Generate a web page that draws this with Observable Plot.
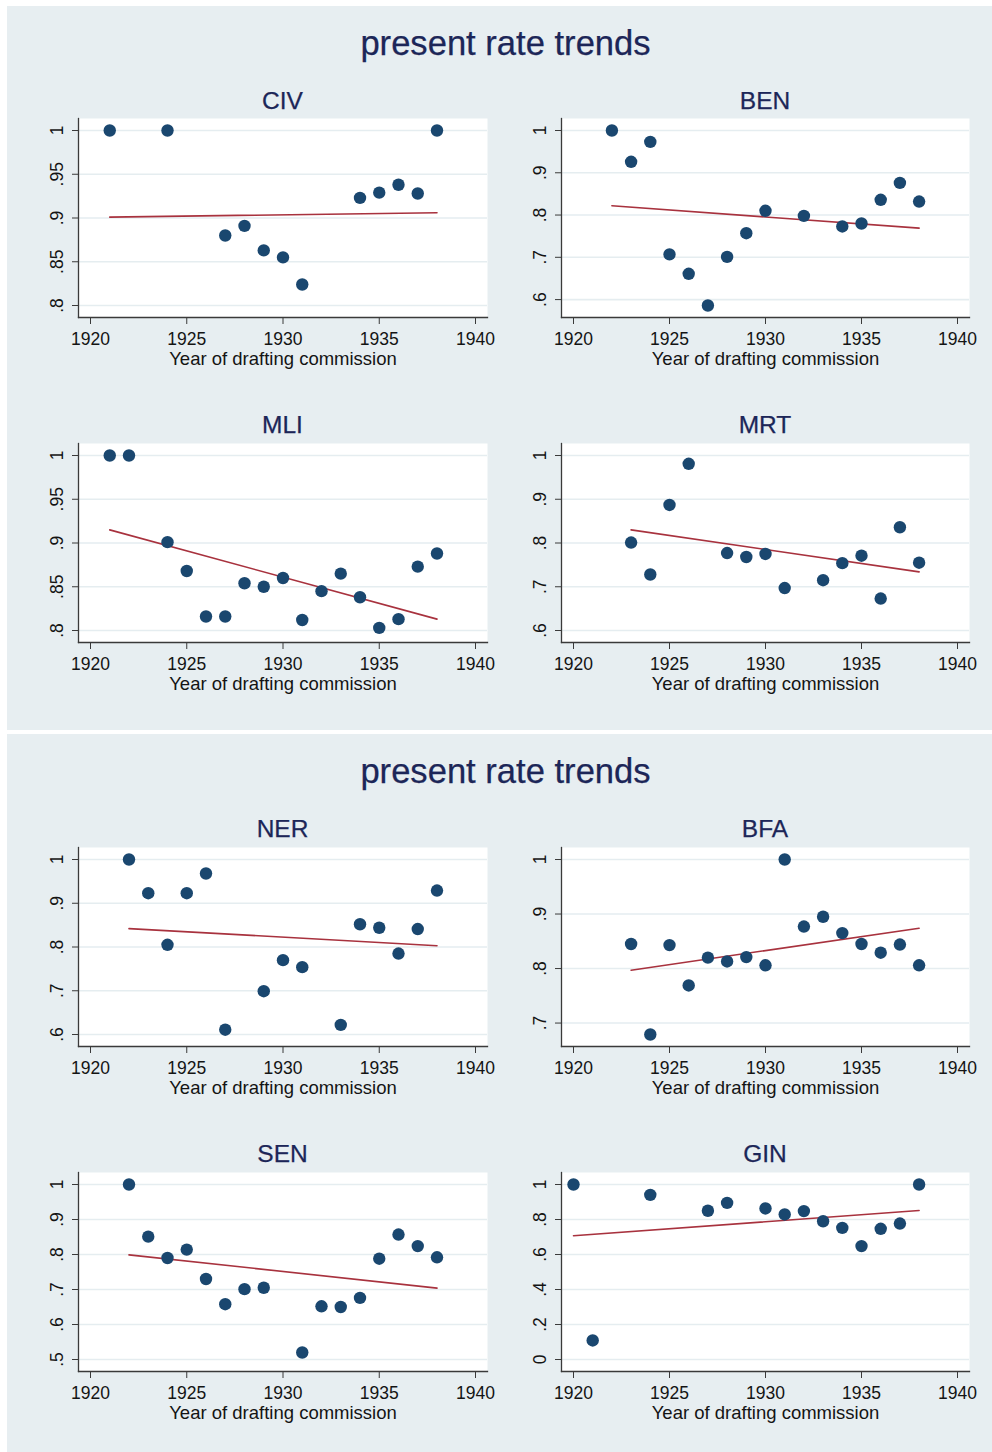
<!DOCTYPE html>
<html>
<head>
<meta charset="utf-8">
<script src="https://cdn.jsdelivr.net/npm/d3@7"></script>
<script src="https://cdn.jsdelivr.net/npm/@observablehq/plot@0.6"></script>
<style>
  body { margin: 0; background: #ffffff; }
  #root { position: relative; width: 992px; height: 1452px; overflow: hidden;
          font-family: "Liberation Sans", Arial, Helvetica, sans-serif; }
  .panel { position: absolute; background: #e7eef1; }
  .ttl { position: absolute; white-space: nowrap; transform: translateX(-50%); -webkit-text-stroke: 0.25px currentColor; }
  .sub { position: absolute; }
  .sub svg { overflow: visible; }
  .sub svg text { stroke: none; }
</style>
</head>
<body>
<div id="root"></div>
<script>
// ---------------- data ----------------
const mainTitle = "present rate trends";
const xLabel = "Year of drafting commission";
const xTicks = [1920, 1925, 1930, 1935, 1940];

const civYears = [1921, 1924, 1927, 1928, 1929, 1930, 1931, 1934, 1935, 1936, 1937, 1938];
const civRates = [1.0, 1.0, 0.880, 0.891, 0.863, 0.855, 0.824, 0.923, 0.929, 0.938, 0.928, 1.0];
const civFitYears = [1921, 1938];
const civFitRates = [0.901, 0.906];
const civTicks = [0.8, 0.85, 0.9, 0.95, 1];

const benYears = [1922, 1923, 1924, 1925, 1926, 1927, 1928, 1929, 1930, 1932, 1934, 1935, 1936, 1937, 1938];
const benRates = [1.0, 0.926, 0.973, 0.707, 0.661, 0.586, 0.701, 0.757, 0.810, 0.798, 0.773, 0.780, 0.836, 0.876, 0.832];
const benFitYears = [1922, 1938];
const benFitRates = [0.822, 0.769];
const benTicks = [0.6, 0.7, 0.8, 0.9, 1];

const mliYears = [1921, 1922, 1924, 1925, 1926, 1927, 1928, 1929, 1930, 1931, 1932, 1933, 1934, 1935, 1936, 1937, 1938];
const mliRates = [1.0, 1.0, 0.901, 0.868, 0.816, 0.816, 0.854, 0.850, 0.860, 0.812, 0.845, 0.865, 0.838, 0.803, 0.813, 0.873, 0.888];
const mliFitYears = [1921, 1938];
const mliFitRates = [0.915, 0.813];
const mliTicks = [0.8, 0.85, 0.9, 0.95, 1];

const mrtYears = [1923, 1924, 1925, 1926, 1928, 1929, 1930, 1931, 1933, 1934, 1935, 1936, 1937, 1938];
const mrtRates = [0.801, 0.728, 0.887, 0.981, 0.777, 0.768, 0.775, 0.697, 0.715, 0.754, 0.771, 0.673, 0.836, 0.755];
const mrtFitYears = [1923, 1938];
const mrtFitRates = [0.830, 0.734];
const mrtTicks = [0.6, 0.7, 0.8, 0.9, 1];

const nerYears = [1922, 1923, 1924, 1925, 1926, 1927, 1929, 1930, 1931, 1933, 1934, 1935, 1936, 1937, 1938];
const nerRates = [1.0, 0.923, 0.805, 0.923, 0.968, 0.611, 0.699, 0.770, 0.754, 0.622, 0.852, 0.844, 0.785, 0.841, 0.929];
const nerFitYears = [1922, 1938];
const nerFitRates = [0.842, 0.803];
const nerTicks = [0.6, 0.7, 0.8, 0.9, 1];

const bfaYears = [1923, 1924, 1925, 1926, 1927, 1928, 1929, 1930, 1931, 1932, 1933, 1934, 1935, 1936, 1937, 1938];
const bfaRates = [0.845, 0.679, 0.843, 0.769, 0.820, 0.813, 0.821, 0.806, 1.0, 0.877, 0.895, 0.865, 0.845, 0.829, 0.844, 0.806];
const bfaFitYears = [1923, 1938];
const bfaFitRates = [0.797, 0.874];
const bfaTicks = [0.7, 0.8, 0.9, 1];

const senYears = [1922, 1923, 1924, 1925, 1926, 1927, 1928, 1929, 1931, 1932, 1933, 1934, 1935, 1936, 1937, 1938];
const senRates = [1.0, 0.851, 0.790, 0.814, 0.730, 0.658, 0.701, 0.705, 0.520, 0.652, 0.650, 0.676, 0.788, 0.857, 0.824, 0.792];
const senFitYears = [1922, 1938];
const senFitRates = [0.799, 0.704];
const senTicks = [0.5, 0.6, 0.7, 0.8, 0.9, 1];

const ginYears = [1920, 1921, 1924, 1927, 1928, 1930, 1931, 1932, 1933, 1934, 1935, 1936, 1937, 1938];
const ginRates = [1.0, 0.109, 0.941, 0.850, 0.895, 0.863, 0.829, 0.848, 0.790, 0.752, 0.648, 0.747, 0.777, 1.0];
const ginFitYears = [1920, 1938];
const ginFitRates = [0.707, 0.851];
const ginTicks = [0, 0.2, 0.4, 0.6, 0.8, 1];

// ---------------- layout / style ----------------
const FONT = '"Liberation Sans", Arial, Helvetica, sans-serif';
const NAVY_TITLE = "#1c2658";
const DOT = "#1a476f";
const FIT = "#a8323e";
const AXIS = "#3a3a3a";
const GRID = "#e5edf0";
const INK = "#141414";

const root = document.getElementById("root");

function addPanel(top, height) {
  const d = document.createElement("div");
  d.className = "panel";
  Object.assign(d.style, {left: "7px", top: top + "px", width: "985px", height: height + "px"});
  root.appendChild(d);
}
function addText(txt, cx, baseline, size, color) {
  const d = document.createElement("div");
  d.className = "ttl";
  d.textContent = txt;
  Object.assign(d.style, {
    left: cx + "px", top: (baseline - 0.8465 * size) + "px",
    fontSize: size + "px", lineHeight: size + "px", color
  });
  root.appendChild(d);
}

const fmtY = d => d === 0 ? "0" : d === 1 ? "1" : String(d).replace(/^0/, "");

function subplot(years, rates, fitYears, fitRates, ticks, col, frameTop) {
  const W = col === 0 ? 485 : 490;
  const left = col === 0 ? 7 : 497;
  const mL = col === 0 ? 71 : 64;
  const mR = col === 0 ? 5 : 18;
  const mT = 2, frameH = 199, mB = 56;
  const yDomain = d3.extent([...rates, ...ticks, ...fitRates]);
  const xDomain = d3.extent([...years, ...xTicks]);
  const svg = Plot.plot({
    width: W, height: mT + frameH + mB,
    marginLeft: mL, marginRight: mR, marginTop: mT, marginBottom: mB,
    style: {fontFamily: FONT, fontSize: "17.5px", color: INK, background: "transparent", overflow: "visible"},
    x: {domain: xDomain, insetLeft: 12, insetRight: 12},
    y: {domain: yDomain, insetTop: 12, insetBottom: 12},
    marks: [
      Plot.frame({fill: "white", stroke: "none"}),
      Plot.gridY(ticks, {stroke: GRID, strokeOpacity: 1, strokeWidth: 1.6}),
      Plot.axisY(ticks, {tickSize: 6, tickRotate: -90, tickPadding: 10, tickFormat: fmtY, label: null, stroke: AXIS, fill: INK}),
      Plot.axisX(xTicks, {tickSize: 7, tickPadding: 8, tickFormat: d => String(d), label: null, stroke: AXIS, fill: INK}),
      Plot.text([xLabel], {frameAnchor: "bottom", dy: 47, lineAnchor: "bottom", fontSize: 18.5, fill: INK, text: d => d}),
      Plot.frame({anchor: "left", stroke: AXIS, strokeWidth: 1.3}),
      Plot.frame({anchor: "bottom", stroke: AXIS, strokeWidth: 1.3}),
      Plot.line(fitYears, {x: fitYears, y: fitRates, stroke: FIT, strokeWidth: 1.6}),
      Plot.dot(years, {x: years, y: rates, r: 6.2, fill: DOT, stroke: "none"})
    ]
  });
  const wrap = document.createElement("div");
  wrap.className = "sub";
  Object.assign(wrap.style, {left: left + "px", top: (frameTop - mT) + "px"});
  wrap.appendChild(svg);
  root.appendChild(wrap);
}

// panels
addPanel(6, 724);
addPanel(734, 718);

// titles
addText(mainTitle, 505.5, 55, 34.6, NAVY_TITLE);
addText(mainTitle, 505.5, 783, 34.6, NAVY_TITLE);

const subSize = 24.5;
addText("CIV", 282.5, 110, subSize, NAVY_TITLE);
addText("BEN", 765, 110, subSize, NAVY_TITLE);
addText("MLI", 282.5, 434, subSize, NAVY_TITLE);
addText("MRT", 765, 434, subSize, NAVY_TITLE);
addText("NER", 282.5, 838, subSize, NAVY_TITLE);
addText("BFA", 765, 838, subSize, NAVY_TITLE);
addText("SEN", 282.5, 1163, subSize, NAVY_TITLE);
addText("GIN", 765, 1163, subSize, NAVY_TITLE);

subplot(civYears, civRates, civFitYears, civFitRates, civTicks, 0, 118);
subplot(benYears, benRates, benFitYears, benFitRates, benTicks, 1, 118);
subplot(mliYears, mliRates, mliFitYears, mliFitRates, mliTicks, 0, 443);
subplot(mrtYears, mrtRates, mrtFitYears, mrtFitRates, mrtTicks, 1, 443);
subplot(nerYears, nerRates, nerFitYears, nerFitRates, nerTicks, 0, 847);
subplot(bfaYears, bfaRates, bfaFitYears, bfaFitRates, bfaTicks, 1, 847);
subplot(senYears, senRates, senFitYears, senFitRates, senTicks, 0, 1172);
subplot(ginYears, ginRates, ginFitYears, ginFitRates, ginTicks, 1, 1172);
</script>
</body>
</html>
